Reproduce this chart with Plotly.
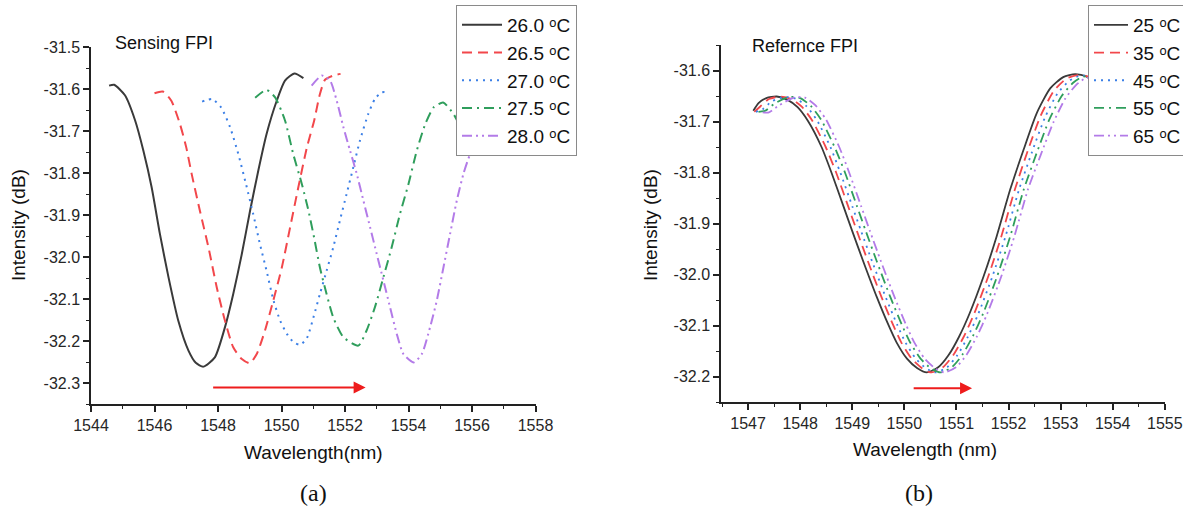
import plotly.graph_objects as go

# ---------------- data: (a) Sensing FPI ----------------
sens_labels = ["26.0 ᵒC", "26.5 ᵒC", "27.0 ᵒC", "27.5 ᵒC", "28.0 ᵒC"]

s260_x = [1544.57, 1544.73, 1545.07, 1545.39, 1545.65, 1545.91, 1546.17, 1546.44, 1546.75, 1547.07, 1547.30, 1547.54,
          1547.90, 1548.22, 1548.48, 1548.75, 1549.01, 1549.27, 1549.53, 1549.85, 1550.11, 1550.41, 1550.69]
s260_y = [-31.592, -31.590, -31.615, -31.675, -31.747, -31.834, -31.945, -32.048, -32.152, -32.223, -32.252, -32.261,
          -32.239, -32.167, -32.088, -31.993, -31.890, -31.794, -31.707, -31.628, -31.580, -31.563, -31.574]

s265_x = [1546.00, 1546.26, 1546.53, 1546.80, 1547.00, 1547.17, 1547.43, 1547.70, 1547.96, 1548.22, 1548.48, 1548.75,
          1549.00, 1549.22, 1549.48, 1549.74, 1550.01, 1550.27, 1550.53, 1550.80, 1551.03, 1551.20, 1551.37, 1551.63, 1551.86]
s265_y = [-31.610, -31.606, -31.628, -31.683, -31.739, -31.802, -31.890, -31.977, -32.072, -32.152, -32.215, -32.243,
          -32.253, -32.231, -32.175, -32.104, -32.025, -31.930, -31.834, -31.739, -31.675, -31.615, -31.578, -31.568, -31.564]

s270_x = [1547.50, 1547.82, 1548.10, 1548.38, 1548.64, 1548.88, 1549.11, 1549.32, 1549.53, 1549.75, 1549.96, 1550.17,
          1550.38, 1550.59, 1550.80, 1551.02, 1551.21, 1551.42, 1551.63, 1551.84, 1552.05, 1552.26, 1552.47, 1552.73,
          1552.94, 1553.15, 1553.40]
s270_y = [-31.630, -31.624, -31.644, -31.691, -31.755, -31.826, -31.898, -31.969, -32.033, -32.104, -32.152, -32.183,
          -32.203, -32.209, -32.193, -32.140, -32.088, -32.033, -31.977, -31.913, -31.850, -31.787, -31.723, -31.660,
          -31.624, -31.608, -31.608]

s275_x = [1549.17, 1549.53, 1549.80, 1550.11, 1550.37, 1550.64, 1550.85, 1551.03, 1551.21, 1551.42, 1551.63, 1551.95,
          1552.42, 1552.68, 1552.94, 1553.21, 1553.47, 1553.73, 1554.00, 1554.26, 1554.53, 1554.79, 1555.09, 1555.42, 1555.70]
s275_y = [-31.621, -31.602, -31.620, -31.675, -31.755, -31.826, -31.890, -31.955, -32.025, -32.088, -32.144, -32.191,
          -32.211, -32.175, -32.120, -32.048, -31.977, -31.898, -31.826, -31.747, -31.683, -31.644, -31.632, -31.660, -31.700]

s280_x = [1550.95, 1551.27, 1551.53, 1551.74, 1551.95, 1552.16, 1552.37, 1552.58, 1552.79, 1553.00, 1553.21, 1553.42,
          1553.63, 1553.84, 1554.16, 1554.42, 1554.68, 1554.89, 1555.10, 1555.31, 1555.52, 1555.73, 1555.94, 1556.15,
          1556.30, 1556.60, 1556.90]
s280_y = [-31.592, -31.568, -31.580, -31.628, -31.691, -31.747, -31.802, -31.866, -31.929, -31.993, -32.056, -32.120,
          -32.183, -32.231, -32.251, -32.231, -32.167, -32.104, -32.025, -31.945, -31.866, -31.802, -31.755, -31.723,
          -31.703, -31.660, -31.640]

# ---------------- data: (b) Reference FPI ----------------
ref_labels = ["25 ᵒC", "35 ᵒC", "45 ᵒC", "55 ᵒC", "65 ᵒC"]

r25_x = [1547.10, 1547.20, 1547.35, 1547.55, 1547.75, 1547.95, 1548.15, 1548.41, 1548.60, 1548.83, 1549.00, 1549.21,
         1549.47, 1549.69, 1549.85, 1550.05, 1550.25, 1550.43, 1550.65, 1550.85, 1551.05, 1551.25, 1551.52, 1551.77,
         1552.03, 1552.29, 1552.54, 1552.80, 1553.05, 1553.28, 1553.50, 1553.70]
r25_y = [-31.679, -31.664, -31.654, -31.651, -31.657, -31.672, -31.699, -31.750, -31.800, -31.866, -31.915, -31.974,
         -32.044, -32.098, -32.133, -32.165, -32.184, -32.192, -32.182, -32.158, -32.122, -32.077, -32.004, -31.926,
         -31.834, -31.755, -31.684, -31.635, -31.613, -31.607, -31.612, -31.625]

r35_x = [1547.12, 1547.24, 1547.40, 1547.62, 1547.83, 1548.03, 1548.23, 1548.49, 1548.69, 1548.92, 1549.09, 1549.30,
         1549.56, 1549.78, 1549.94, 1550.14, 1550.34, 1550.52, 1550.74, 1550.94, 1551.14, 1551.34, 1551.61, 1551.86,
         1552.12, 1552.37, 1552.62, 1552.87, 1553.11, 1553.33, 1553.53, 1553.72]
r35_y = [-31.681, -31.670, -31.656, -31.651, -31.656, -31.671, -31.698, -31.750, -31.800, -31.866, -31.915, -31.974,
         -32.044, -32.098, -32.133, -32.165, -32.184, -32.192, -32.182, -32.158, -32.122, -32.077, -32.004, -31.926,
         -31.834, -31.757, -31.688, -31.640, -31.616, -31.609, -31.612, -31.625]

r45_x = [1547.15, 1547.28, 1547.46, 1547.70, 1547.91, 1548.12, 1548.32, 1548.58, 1548.77, 1549.00, 1549.17, 1549.38,
         1549.64, 1549.86, 1550.02, 1550.22, 1550.42, 1550.60, 1550.82, 1551.02, 1551.22, 1551.42, 1551.69, 1551.94,
         1552.20, 1552.45, 1552.70, 1552.94, 1553.17, 1553.38, 1553.56, 1553.74]
r45_y = [-31.681, -31.676, -31.660, -31.652, -31.655, -31.670, -31.697, -31.750, -31.800, -31.866, -31.915, -31.974,
         -32.044, -32.098, -32.133, -32.165, -32.184, -32.192, -32.182, -32.158, -32.122, -32.077, -32.004, -31.926,
         -31.834, -31.760, -31.692, -31.645, -31.620, -31.610, -31.612, -31.625]

r55_x = [1547.20, 1547.33, 1547.52, 1547.78, 1548.00, 1548.20, 1548.40, 1548.66, 1548.86, 1549.09, 1549.26, 1549.47,
         1549.73, 1549.95, 1550.11, 1550.31, 1550.51, 1550.69, 1550.91, 1551.11, 1551.31, 1551.51, 1551.78, 1552.03,
         1552.29, 1552.54, 1552.78, 1553.02, 1553.24, 1553.43, 1553.60, 1553.77]
r55_y = [-31.681, -31.679, -31.664, -31.652, -31.654, -31.669, -31.696, -31.750, -31.800, -31.866, -31.915, -31.974,
         -32.044, -32.098, -32.133, -32.165, -32.184, -32.192, -32.182, -32.158, -32.122, -32.077, -32.004, -31.926,
         -31.834, -31.762, -31.697, -31.650, -31.624, -31.612, -31.613, -31.625]

r65_x = [1547.28, 1547.40, 1547.60, 1547.88, 1548.09, 1548.29, 1548.49, 1548.75, 1548.94, 1549.17, 1549.34, 1549.55,
         1549.81, 1550.03, 1550.19, 1550.39, 1550.59, 1550.77, 1550.99, 1551.19, 1551.39, 1551.59, 1551.86, 1552.11,
         1552.37, 1552.62, 1552.86, 1553.09, 1553.30, 1553.48, 1553.63, 1553.80]
r65_y = [-31.682, -31.682, -31.668, -31.653, -31.653, -31.668, -31.695, -31.750, -31.800, -31.866, -31.915, -31.974,
         -32.044, -32.098, -32.133, -32.165, -32.184, -32.192, -32.182, -32.158, -32.122, -32.077, -32.004, -31.926,
         -31.834, -31.765, -31.702, -31.655, -31.628, -31.615, -31.614, -31.625]

# tick labels (hyphen-minus as in the original)
a_xticks = [1544, 1546, 1548, 1550, 1552, 1554, 1556, 1558]
a_yticks = [-31.5, -31.6, -31.7, -31.8, -31.9, -32.0, -32.1, -32.2, -32.3]
b_xticks = [1547, 1548, 1549, 1550, 1551, 1552, 1553, 1554, 1555]
b_yticks = [-31.6, -31.7, -31.8, -31.9, -32.0, -32.1, -32.2]
a_yticktext = ["-31.5", "-31.6", "-31.7", "-31.8", "-31.9", "-32.0", "-32.1", "-32.2", "-32.3"]
b_yticktext = ["-31.6", "-31.7", "-31.8", "-31.9", "-32.0", "-32.1", "-32.2"]

# arrows (data coordinates)
arrow_a = dict(x0=1547.8, x1=1552.65, y=-32.311)
arrow_b = dict(x0=1550.15, x1=1551.30, y=-32.223)

# ---------------- styles ----------------
colors = ["#3a3a3a", "#f2474b", "#3b7fe6", "#2f9e5c", "#b37be8"]
dashes = ["solid", "10px,6px", "2px,5px", "10px,5px,2px,5px", "10px,4px,2px,4px,2px,4px"]
FONT = "Arial"
SERIF = "Liberation Serif"

fig = go.Figure()

sens = [(s260_x, s260_y), (s265_x, s265_y), (s270_x, s270_y), (s275_x, s275_y), (s280_x, s280_y)]
for i, (xs, ys) in enumerate(sens):
    fig.add_trace(go.Scatter(x=xs, y=ys, mode="lines", name=sens_labels[i],
                             line=dict(color=colors[i], width=2, dash=dashes[i], shape="spline", smoothing=0.6),
                             xaxis="x", yaxis="y", legend="legend"))

refs = [(r25_x, r25_y), (r35_x, r35_y), (r45_x, r45_y), (r55_x, r55_y), (r65_x, r65_y)]
for i, (xs, ys) in enumerate(refs):
    fig.add_trace(go.Scatter(x=xs, y=ys, mode="lines", name=ref_labels[i],
                             line=dict(color=colors[i], width=1.8, dash=dashes[i], shape="spline", smoothing=0.6),
                             xaxis="x2", yaxis="y2", legend="legend2"))

W, H = 1183, 510
def px(x):
    return x / W
def py(y):
    return 1 - y / H

tickfont = dict(family=FONT, size=16, color="#262626")
axis_common = dict(showline=True, linecolor="#222", linewidth=1.5, ticks="outside", ticklen=6, tickwidth=1.5,
                   tickcolor="#222", showgrid=False, zeroline=False, mirror=False, tickfont=tickfont)
minor_x_a = dict(dtick=1, ticks="outside", ticklen=3, tickcolor="#222", tickwidth=1.2)
minor_y = dict(dtick=0.05, ticks="outside", ticklen=3, tickcolor="#222", tickwidth=1.2)
minor_x_b = dict(dtick=0.5, ticks="outside", ticklen=3, tickcolor="#222", tickwidth=1.2)

legend_font = dict(family=FONT, size=19, color="#111")

fig.update_layout(
    width=W, height=H,
    margin=dict(l=0, r=0, t=0, b=0, autoexpand=False),
    paper_bgcolor="white", plot_bgcolor="white",
    showlegend=True,
    xaxis=dict(domain=[px(91), px(535.5)], range=[1544, 1558], tickmode="array", tickvals=a_xticks,
               ticktext=[str(v) for v in a_xticks], anchor="y", minor=minor_x_a, **axis_common),
    yaxis=dict(domain=[py(404), py(47)], range=[-32.35, -31.5], tickmode="array", tickvals=a_yticks,
               ticktext=a_yticktext, anchor="x", minor=minor_y, **axis_common),
    xaxis2=dict(domain=[px(721), px(1164.8)], range=[1546.48, 1555], tickmode="array", tickvals=b_xticks,
                ticktext=[str(v) for v in b_xticks], anchor="y2", minor=minor_x_b, **axis_common),
    yaxis2=dict(domain=[py(402), py(45)], range=[-32.25, -31.55], tickmode="array", tickvals=b_yticks,
                ticktext=b_yticktext, anchor="x2", minor=minor_y, **axis_common),
    legend=dict(x=px(456), y=py(5), xanchor="left", yanchor="top", bgcolor="white", bordercolor="#8a8a8a",
                borderwidth=1, font=legend_font, tracegroupgap=0, itemwidth=40),
    legend2=dict(x=px(1088), y=py(5), xanchor="left", yanchor="top", bgcolor="white", bordercolor="#8a8a8a",
                 borderwidth=1, font=legend_font, tracegroupgap=0, itemwidth=34),
)

ann = []
ann.append(dict(text="Sensing FPI", x=px(113), y=py(43), xref="paper", yref="paper", xanchor="left", yanchor="middle",
                showarrow=False, font=dict(family=FONT, size=18, color="#111")))
ann.append(dict(text="Refernce FPI", x=px(750), y=py(46), xref="paper", yref="paper", xanchor="left", yanchor="middle",
                showarrow=False, font=dict(family=FONT, size=18, color="#111")))
ann.append(dict(text="Intensity (dB)", x=px(18), y=py(225), xref="paper", yref="paper", textangle=-90,
                xanchor="center", yanchor="middle", showarrow=False, font=dict(family=FONT, size=19, color="#111")))
ann.append(dict(text="Intensity (dB)", x=px(650), y=py(225), xref="paper", yref="paper", textangle=-90,
                xanchor="center", yanchor="middle", showarrow=False, font=dict(family=FONT, size=19, color="#111")))
ann.append(dict(text="Wavelength(nm)", x=px(313), y=py(452), xref="paper", yref="paper",
                xanchor="center", yanchor="middle", showarrow=False, font=dict(family=FONT, size=19, color="#111")))
ann.append(dict(text="Wavelength (nm)", x=px(925), y=py(449), xref="paper", yref="paper",
                xanchor="center", yanchor="middle", showarrow=False, font=dict(family=FONT, size=19, color="#111")))
ann.append(dict(text="(a)", x=px(313), y=py(493), xref="paper", yref="paper", xanchor="center", yanchor="middle",
                showarrow=False, font=dict(family=SERIF, size=24, color="#111")))
ann.append(dict(text="(b)", x=px(919), y=py(493), xref="paper", yref="paper", xanchor="center", yanchor="middle",
                showarrow=False, font=dict(family=SERIF, size=24, color="#111")))
ann.append(dict(x=arrow_a["x1"], y=arrow_a["y"], ax=arrow_a["x0"], ay=arrow_a["y"], xref="x", yref="y",
                axref="x", ayref="y", text="", showarrow=True, arrowhead=2, arrowsize=1.2, arrowwidth=2,
                arrowcolor="#ee1c1c"))
ann.append(dict(x=arrow_b["x1"], y=arrow_b["y"], ax=arrow_b["x0"], ay=arrow_b["y"], xref="x2", yref="y2",
                axref="x2", ayref="y2", text="", showarrow=True, arrowhead=2, arrowsize=1.2, arrowwidth=2,
                arrowcolor="#ee1c1c"))
fig.update_layout(annotations=ann)

fig.write_html("out.html", config={"displayModeBar": False},
               post_script="document.body.style.margin='0px';")
